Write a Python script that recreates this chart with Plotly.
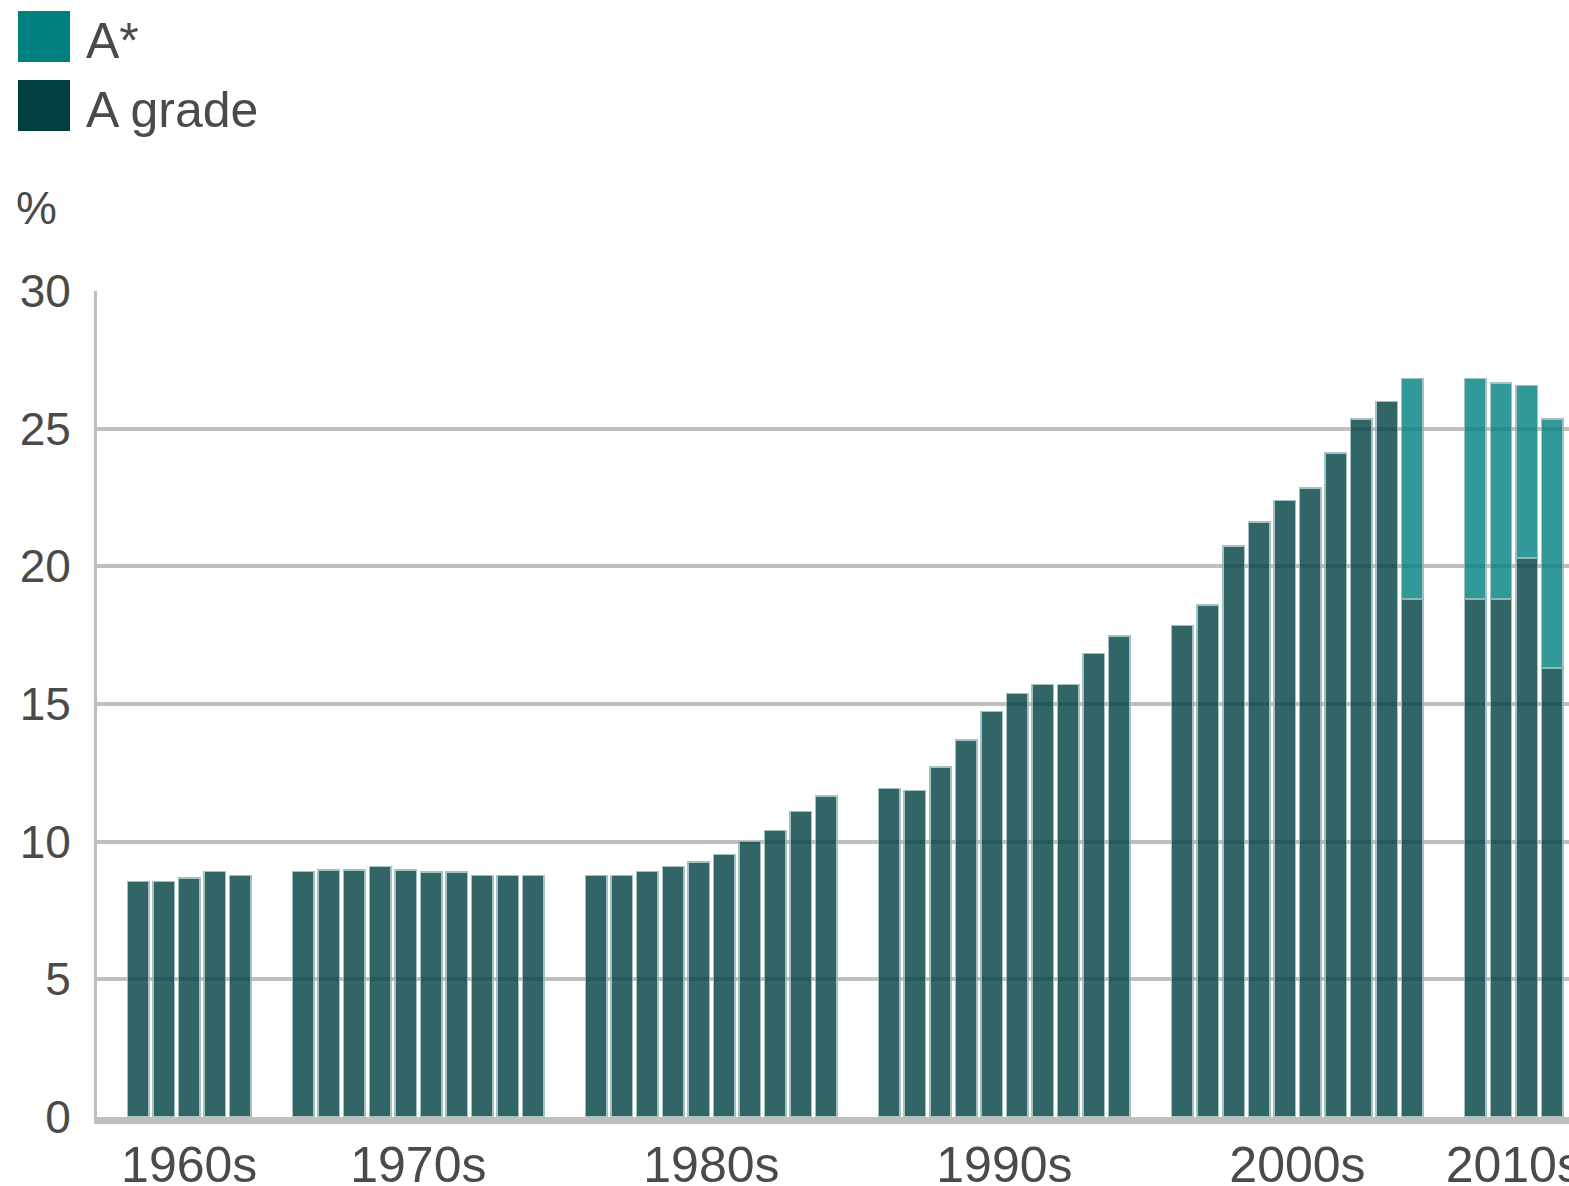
import plotly.graph_objects as go

# ---------------- data ----------------
decade_labels = ["1960s", "1970s", "1980s", "1990s", "2000s", "2010s"]
decade_starts = [1960, 1970, 1980, 1990, 2000, 2010]
first_year = [1965, 1970, 1980, 1990, 2000, 2010]

a_grade_1960s = [8.55, 8.55, 8.68, 8.91, 8.78]
a_grade_1970s = [8.91, 8.98, 8.98, 9.10, 8.98, 8.89, 8.89, 8.78, 8.78, 8.78]
a_grade_1980s = [8.78, 8.78, 8.91, 9.09, 9.27, 9.53, 10.0, 10.4, 11.1, 11.65]
a_grade_1990s = [11.94, 11.85, 12.72, 13.70, 14.73, 15.38, 15.71, 15.71, 16.83, 17.47]
a_grade_2000s = [17.86, 18.6, 20.73, 21.61, 22.4, 22.85, 24.12, 25.35, 25.99, 18.82]
a_grade_2010s = [18.82, 18.82, 20.31, 16.31]

a_star_1960s = [None] * 5
a_star_1970s = [None] * 10
a_star_1980s = [None] * 10
a_star_1990s = [None] * 10
a_star_2000s = [None] * 9 + [8.0]
a_star_2010s = [8.0, 7.84, 6.25, 9.04]

y_ticks = [0, 5, 10, 15, 20, 25, 30]
series_names = ["A*", "A grade"]
unit_label = "%"

a_grade_groups = [a_grade_1960s, a_grade_1970s, a_grade_1980s,
                  a_grade_1990s, a_grade_2000s, a_grade_2010s]
a_star_groups = [a_star_1960s, a_star_1970s, a_star_1980s,
                 a_star_1990s, a_star_2000s, a_star_2010s]

# ---------------- styling / layout ----------------
COL_ASTAR = "#008080"
COL_A = "#004040"
GRID = "#bfbfbf"
TXT = "#4a4a4a"
FONT = "Liberation Sans, Arial, sans-serif"
GROUP_SPAN = 11.464  # slots per decade group (10 years + gap)

W, H = 1569, 1186
ML, MR, MT, MB = 97, 0, 291, 69
PW, PH = W - ML - MR, H - MT - MB

xs, a_vals, s_vals = [], [], []
for gi, (ds, fy, avals, svals) in enumerate(zip(decade_starts, first_year, a_grade_groups, a_star_groups)):
    for k, (av, sv) in enumerate(zip(avals, svals)):
        year = fy + k
        xs.append(gi * GROUP_SPAN + (year - ds))
        a_vals.append(av)
        s_vals.append(sv)

tick_pos = []
idx = 0
for avals in a_grade_groups:
    n = len(avals)
    tick_pos.append(sum(xs[idx:idx + n]) / n)
    idx += n

fig = go.Figure()
fig.add_trace(go.Bar(x=xs, y=a_vals, name=series_names[1],
                     marker=dict(color=COL_A, line=dict(color="#8fb3b3", width=1.5)),
                     opacity=0.8, showlegend=False, hoverinfo="y"))
fig.add_trace(go.Bar(x=xs, y=s_vals, name=series_names[0],
                     marker=dict(color=COL_ASTAR, line=dict(color="#8fb3b3", width=1.5)),
                     opacity=0.8, showlegend=False, hoverinfo="y"))


def px_x(p):
    return (p - ML) / PW


def px_y(p):
    return (H - MB - p) / PH


shapes = []
annotations = []
# manual legend
leg = [(series_names[0], COL_ASTAR, 11, 62), (series_names[1], COL_A, 80, 131)]
for name, col, y0, y1 in leg:
    shapes.append(dict(type="rect", xref="paper", yref="paper",
                       x0=px_x(18), x1=px_x(70), y0=px_y(y1), y1=px_y(y0),
                       fillcolor=col, line=dict(width=0)))
    annotations.append(dict(text=name, xref="paper", yref="paper",
                            x=px_x(84), y=px_y((y0 + y1) / 2 + 4),
                            xanchor="left", yanchor="middle", showarrow=False,
                            font=dict(size=50, color=TXT, family=FONT)))
annotations.append(dict(text=unit_label, xref="paper", yref="paper",
                        x=px_x(14), y=px_y(208), xanchor="left", yanchor="middle",
                        showarrow=False, font=dict(size=46, color=TXT, family=FONT)))

fig.update_layout(
    width=W, height=H,
    margin=dict(l=ML, r=MR, t=MT, b=MB, pad=0, autoexpand=False),
    paper_bgcolor="white", plot_bgcolor="white",
    barmode="stack", bargap=0.16,
    shapes=shapes, annotations=annotations,
    font=dict(family=FONT, color=TXT),
    showlegend=False,
)
fig.update_xaxes(range=[3.392, 60.98], tickvals=tick_pos, ticktext=decade_labels,
                 showgrid=False, zeroline=False, showline=True, linecolor=GRID,
                 linewidth=7, ticks="", tickfont=dict(size=50, color=TXT, family=FONT),
                 ticklabelstandoff=-2, ticklabeloverflow="allow", automargin=False)
fig.update_yaxes(range=[0, 30], tickvals=y_ticks, showgrid=True, gridcolor=GRID,
                 gridwidth=4, zeroline=False, showline=True, linecolor=GRID,
                 linewidth=3, ticks="", tickfont=dict(size=46, color=TXT, family=FONT),
                 ticklabelstandoff=14, automargin=False)

fig.write_html("out.html", config={"displayModeBar": False},
               post_script="document.body.style.margin='0';")
